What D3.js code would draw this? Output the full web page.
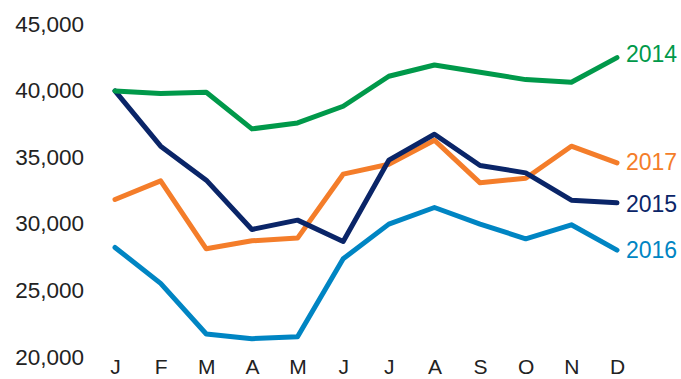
<!DOCTYPE html>
<html>
<head>
<meta charset="utf-8">
<script src="https://cdn.jsdelivr.net/npm/d3@7"></script>
<style>
  html, body { margin: 0; padding: 0; background: #fff; }
  svg { display: block; }
  text { font-family: "Liberation Sans", Arial, Helvetica, sans-serif; }
</style>
</head>
<body>
<svg id="chart" width="681" height="379"></svg>
<script>
// Monthly totals by year
const months = ["J", "F", "M", "A", "M", "J", "J", "A", "S", "O", "N", "D"];
const yTicks = [20000, 25000, 30000, 35000, 40000, 45000];

const values2014 = [39900, 39700, 39800, 37050, 37500, 38750, 41000, 41850, 41300, 40750, 40550, 42400];
const values2015 = [39900, 35750, 33200, 29500, 30200, 28600, 34700, 36650, 34300, 33750, 31700, 31500];
const values2016 = [28150, 25450, 21650, 21300, 21450, 27300, 29900, 31150, 29900, 28800, 29850, 27950];
const values2017 = [31750, 33150, 28050, 28650, 28850, 33650, 34400, 36200, 33000, 33350, 35750, 34500];

const seriesNames = ["2016", "2017", "2015", "2014"];
const seriesValues = [values2016, values2017, values2015, values2014];
const seriesColors = ["#0085C3", "#F47D2A", "#0A2568", "#00994A"];
// vertical nudge for the end-of-line labels (px)
const labelShift = [0, -1, 1, -4];

const svg = d3.select("#chart");

// month index is used as the key so repeated letters stay distinct
const x = d3.scalePoint()
  .domain(d3.range(months.length))
  .range([115, 617]);

const y = d3.scaleLinear()
  .domain([20000, 45000])
  .range([356, 23]);

// y axis: labels only
const yAxis = svg.append("g")
  .attr("transform", "translate(84,0)")
  .call(d3.axisLeft(y).tickValues(yTicks).tickSize(0).tickPadding(0).tickFormat(d3.format(",")));
yAxis.select(".domain").remove();
yAxis.selectAll("text")
  .attr("fill", "#222")
  .style("font-size", "22.5px")
  .attr("dy", "0.36em");

// x axis: month initials
const xAxis = svg.append("g")
  .attr("transform", "translate(0,356)")
  .call(d3.axisBottom(x).tickSize(0).tickFormat(i => months[i]));
xAxis.select(".domain").remove();
xAxis.selectAll("text")
  .attr("fill", "#222")
  .style("font-size", "21px")
  .attr("y", 18)
  .attr("dy", "0");

const line = d3.line()
  .x((d, i) => x(i))
  .y(d => y(d));

seriesValues.forEach((vals, k) => {
  svg.append("path")
    .datum(vals)
    .attr("fill", "none")
    .attr("stroke", seriesColors[k])
    .attr("stroke-width", 5)
    .attr("stroke-linecap", "round")
    .attr("stroke-linejoin", "round")
    .attr("d", line);

  svg.append("text")
    .attr("x", x(months.length - 1) + 9)
    .attr("y", y(vals[vals.length - 1]) + labelShift[k])
    .attr("dy", "0.36em")
    .attr("fill", seriesColors[k])
    .style("font-size", "23px")
    .text(seriesNames[k]);
});
</script>
</body>
</html>
